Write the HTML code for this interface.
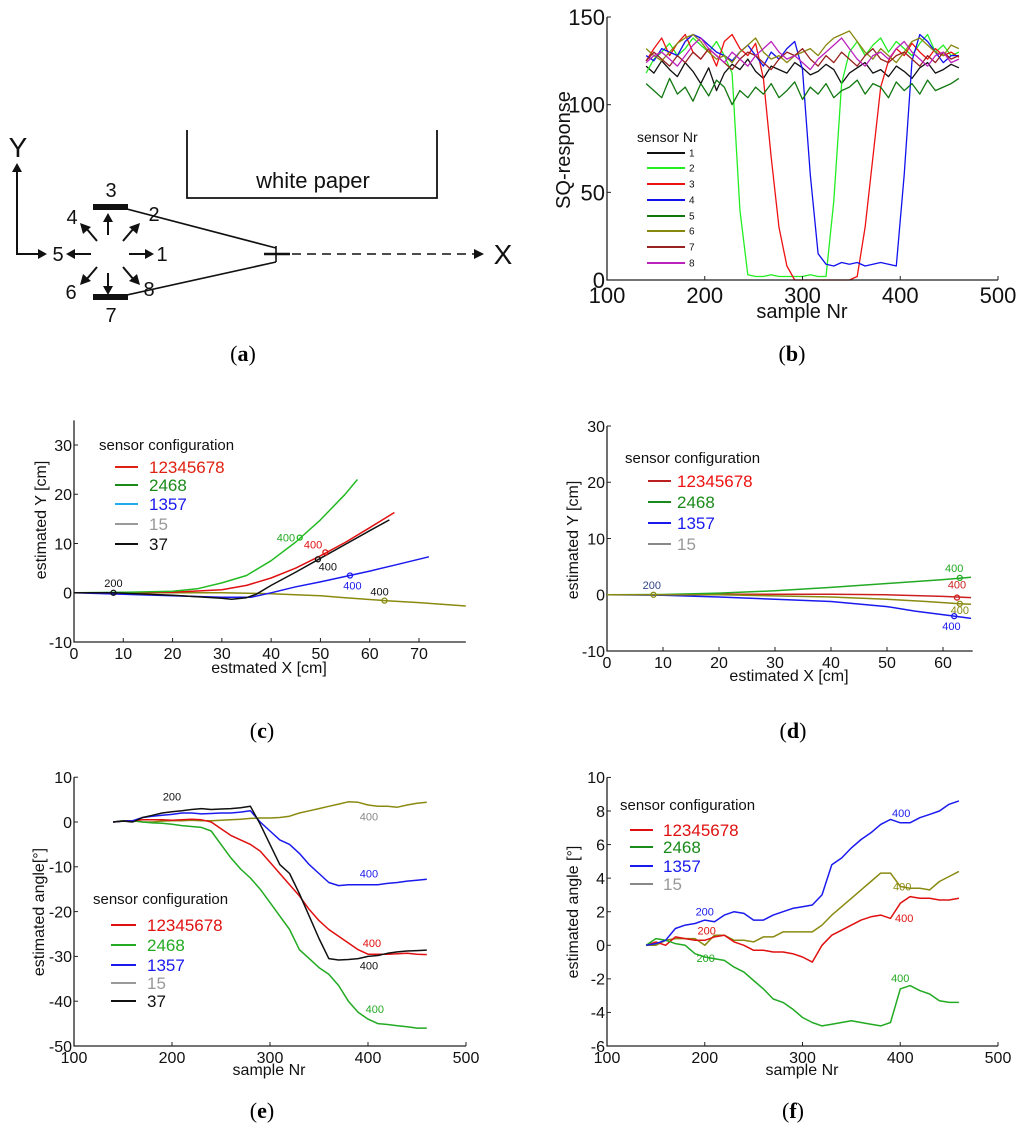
<!DOCTYPE html>
<html><head><meta charset="utf-8"><style>
body{margin:0;background:#fff}
svg{display:block;font-family:"Liberation Sans",sans-serif}
.cap{font-family:"Liberation Serif",serif;font-size:22px}
</style></head><body>
<svg id="fig" width="1024" height="1134" viewBox="0 0 1024 1134">
<g id="pa" stroke="#111" fill="none" stroke-width="2">
 <polyline points="187,130 187,198 437,198 437,130" stroke-width="1.8"/>
 <text x="313" y="188" fill="#111" stroke="none" font-size="22" text-anchor="middle">white paper</text>
 <text x="18" y="157" fill="#111" stroke="none" font-size="28" text-anchor="middle">Y</text>
 <polyline points="17,172 17,254 40,254"/>
 <polygon points="12,172 22,172 17,163" fill="#111" stroke="none"/>
 <polygon points="38,249 38,259 47,254" fill="#111" stroke="none"/>
 <rect x="93" y="204" width="35" height="6" fill="#111" stroke="none"/>
 <rect x="93" y="294" width="35" height="6" fill="#111" stroke="none"/>
 <g fill="#111" stroke="none" font-size="20" text-anchor="middle">
  <text x="111" y="197">3</text><text x="111" y="322">7</text>
  <text x="58" y="261">5</text><text x="162" y="261">1</text>
  <text x="72" y="224">4</text><text x="154" y="221">2</text>
  <text x="71" y="299">6</text><text x="149" y="296">8</text>
  <text x="503" y="264" font-size="28">X</text>
 </g>
 <line x1="108" y1="235" x2="108" y2="220"/><polygon points="103,222 113,222 108,213" fill="#111" stroke="none"/>
 <line x1="108" y1="273" x2="108" y2="288"/><polygon points="103,286 113,286 108,295" fill="#111" stroke="none"/>
 <line x1="129" y1="254" x2="146" y2="254"/><polygon points="145,249 145,259 154,254" fill="#111" stroke="none"/>
 <line x1="91" y1="254" x2="74" y2="254"/><polygon points="75,249 75,259 66,254" fill="#111" stroke="none"/>
 <line x1="97" y1="241" x2="86" y2="228"/><polygon points="80,223 83,234 91,227" fill="#111" stroke="none"/>
 <line x1="123" y1="241" x2="134" y2="228"/><polygon points="140,223 137,234 129,227" fill="#111" stroke="none"/>
 <line x1="97" y1="267" x2="86" y2="280"/><polygon points="80,285 83,274 91,281" fill="#111" stroke="none"/>
 <line x1="123" y1="267" x2="134" y2="280"/><polygon points="140,285 137,274 129,281" fill="#111" stroke="none"/>
 <line x1="127" y1="209" x2="276" y2="248" stroke-width="1.6"/>
 <line x1="127" y1="295" x2="276" y2="262" stroke-width="1.6"/>
 <line x1="264" y1="254" x2="290" y2="254" stroke-width="2.4"/>
 <line x1="276" y1="246" x2="276" y2="262" stroke-width="1.6"/>
 <line x1="292" y1="254" x2="474" y2="254" stroke-dasharray="9,6" stroke-width="1.6"/>
 <polygon points="474,249 474,259 484,254" fill="#111" stroke="none"/>
</g>
<g class="cap" text-anchor="middle">
 <text x="243" y="361">(<tspan font-weight="bold">a</tspan>)</text>
 <text x="792" y="361">(<tspan font-weight="bold">b</tspan>)</text>
 <text x="262" y="738">(<tspan font-weight="bold">c</tspan>)</text>
 <text x="793" y="738">(<tspan font-weight="bold">d</tspan>)</text>
 <text x="262" y="1118">(<tspan font-weight="bold">e</tspan>)</text>
 <text x="793" y="1118">(<tspan font-weight="bold">f</tspan>)</text>
</g>
</svg>
<script>
// ---- Panel b data (samples start 140, step 8) ----
const bStart = 140, bStep = 8;
const bS1 = [122,118,125,120,116,124,119,112,121,108,118,123,120,126,119,115,122,120,118,124,121,117,119,123,120,112,118,121,124,118,120,116,122,119,115,121,124,118,120,123,121];
const bS2 = [118,126,130,135,128,132,138,134,130,136,128,118,40,3,2,2,3,2,2,2,2,3,2,2,45,112,130,136,128,134,138,130,136,132,128,135,140,130,134,128,130];
const bS3 = [125,132,138,128,135,140,130,126,132,122,136,140,132,128,135,115,70,30,8,0,0,0,0,0,0,0,0,2,30,70,110,125,132,128,135,130,126,132,128,130,127];
const bS4 = [128,125,132,130,128,136,140,138,134,130,128,125,130,134,128,122,130,126,132,136,120,60,15,9,8,10,9,10,8,9,10,9,8,60,125,140,136,130,124,128,128];
const bS5 = [112,108,104,115,106,110,102,112,105,114,110,100,108,104,110,106,112,104,108,113,103,110,106,112,104,108,110,114,106,112,110,104,113,108,112,106,114,108,110,112,115];
const bS6 = [132,128,125,130,135,138,140,136,130,126,128,124,130,134,138,130,126,128,124,128,130,132,128,134,138,140,142,136,130,126,132,128,124,130,136,138,134,130,128,134,132];
const bS7 = [125,130,126,122,128,124,130,126,132,128,124,120,126,130,128,124,120,126,130,128,132,126,122,128,124,130,126,122,128,132,126,124,128,130,126,122,128,124,130,126,128];
const bS8 = [124,128,130,126,122,128,134,138,132,128,124,130,126,122,128,132,136,130,126,128,124,120,126,130,134,138,132,126,122,128,130,126,132,136,130,126,122,128,130,124,126];
const bXTicks = [100,200,300,400,500];
const bYTicks = [0,50,100,150];
const bLegend = ['1','2','3','4','5','6','7','8'];

// ---- Panel c data ----
const cRedX=[0,8,20,30,35,40,45,50,55,60,65], cRedY=[0,0,0.1,0.6,1.5,3,5,7.5,10.2,13.2,16.3];
const cGreenX=[0,10,20,25,30,35,40,45,50,55,57.5], cGreenY=[0,0.1,0.3,0.8,2,3.5,6.5,10.3,14.8,20,23];
const cBlueX=[0,10,20,30,36,40,45,50,55,60,65,72], cBlueY=[0,-0.3,-0.6,-0.9,-0.9,0,1.2,2.2,3.3,4.4,5.6,7.3];
const cOliveX=[0,20,30,40,50,55,63,70,79.5], cOliveY=[0,0,0,-0.2,-0.6,-1,-1.6,-2,-2.7];
const cBlackX=[0,8,20,30,32,35,37,40,45,50,55,60,64], cBlackY=[0,0,-0.5,-1.1,-1.3,-1,-0.3,1.5,4.2,7,9.8,12.6,14.8];
const cXTicks=[0,10,20,30,40,50,60,70], cYTicks=[-10,0,10,20,30];

// ---- Panel d data ----
const dRedX=[0,10,20,30,40,50,60,65], dRedY=[0,0,0.1,0.1,0.1,0,-0.3,-0.5];
const dGreenX=[0,10,20,30,40,50,60,65], dGreenY=[0,0.05,0.3,0.7,1.3,2.0,2.7,3.1];
const dBlueX=[0,10,20,30,40,50,55,62,65], dBlueY=[0,-0.1,-0.4,-0.8,-1.2,-2.1,-2.9,-3.8,-4.2];
const dOliveX=[0,20,30,40,50,57,63,65], dOliveY=[0,0,-0.2,-0.4,-0.8,-1.2,-1.6,-1.7];
const dXTicks=[0,10,20,30,40,50,60], dYTicks=[-10,0,10,20,30];

// ---- Panel e data (samples start 140, step 10) ----
const eStart=140, eStep=10;
const eOlive=[0,0.3,0.3,0,0,0.2,0.3,0.3,0.4,0.3,0.3,0.4,0.5,0.6,0.8,0.9,0.9,1,1.3,2,2.5,3,3.5,4,4.5,4.4,3.8,3.5,3.5,3.3,3.8,4.2,4.4];
const eRed=[0,0.2,0.3,0.5,0.5,0.5,0.4,0.5,0.6,0.5,0,-1.5,-3,-4,-5,-6.5,-9,-11.5,-14,-16.5,-19.5,-22,-24,-25.5,-27,-28.5,-29.5,-29.5,-29.5,-29.4,-29.3,-29.5,-29.6];
const eGreen=[0,0.3,0.3,0,-0.2,-0.3,-0.5,-0.8,-1,-1.2,-2,-5,-8,-10.5,-12.5,-15,-18,-21,-24,-28.5,-30.5,-32.5,-34,-36.5,-40,-42.5,-44,-45,-45.2,-45.5,-45.7,-46,-46];
const eBlue=[0,0.2,0.3,1,1.3,1.5,1.7,2,2,1.8,1.9,2,2,2.2,2.5,0,-2,-4,-5,-7,-9.5,-11.5,-13.5,-14.2,-14,-14,-14,-14,-13.7,-13.5,-13.2,-13,-12.8];
const eBlack=[0,0.2,0,1,1.5,2,2.3,2.5,2.8,3,2.8,2.9,3,3.2,3.5,-0.5,-5,-9.5,-11.5,-16,-21,-26,-30.5,-30.8,-30.7,-30.5,-30,-29.8,-29.3,-29,-28.8,-28.7,-28.6];
const eXTicks=[100,200,300,400,500], eYTicks=[-50,-40,-30,-20,-10,0,10];

// ---- Panel f data ----
const fBlue=[0,0.1,0.3,1,1.2,1.3,1.5,1.4,1.8,2,1.9,1.5,1.5,1.8,2,2.2,2.3,2.4,3,4.8,5.2,5.8,6.3,6.7,7.2,7.5,7.3,7.3,7.6,7.8,8,8.4,8.6];
const fOlive=[0,0,0.3,0.4,0.4,0.4,0,0.6,0.6,0.3,0.3,0.2,0.5,0.5,0.8,0.8,0.8,0.8,1.2,1.8,2.3,2.8,3.3,3.8,4.3,4.3,3.5,3.4,3.4,3.3,3.8,4.1,4.4];
const fRed=[0,0.2,0,0.5,0.4,0.3,0.3,0.5,0.6,0.2,0,-0.3,-0.3,-0.4,-0.4,-0.5,-0.7,-1,0,0.6,0.9,1.2,1.5,1.7,1.8,1.6,2.5,2.9,2.8,2.8,2.7,2.7,2.8];
const fGreen=[0,0.4,0.3,0.1,0,-0.5,-0.7,-0.8,-0.9,-1.3,-1.6,-2.1,-2.6,-3.2,-3.4,-3.8,-4.3,-4.6,-4.8,-4.7,-4.6,-4.5,-4.6,-4.7,-4.8,-4.6,-2.6,-2.4,-2.7,-2.9,-3.3,-3.4,-3.4];
const fXTicks=[100,200,300,400,500], fYTicks=[-6,-4,-2,0,2,4,6,8,10];

const NS='http://www.w3.org/2000/svg';
const svg=document.getElementById('fig');
function mk(tag,attrs,parent){const e=document.createElementNS(NS,tag);for(const k in attrs)e.setAttribute(k,attrs[k]);(parent||svg).appendChild(e);return e;}
function txt(s,attrs,parent){const e=mk('text',attrs,parent);e.textContent=s;return e;}
function scale(d0,d1,p0,p1){return v=>p0+(v-d0)*(p1-p0)/(d1-d0);}

function axes(g,X,Y,xL,xR,yB,yT,xt,yt,fs){
  const ax=mk('path',{d:`M${X(xL)},${Y(yT)}V${Y(yB)}H${X(xR)}`,stroke:'#222',fill:'none','stroke-width':1.3},g);
  
  
  xt.forEach(v=>{
    const t=mk('line',{x1:X(v),x2:X(v),y1:Y(yB),y2:Y(yB)-4,stroke:'#222'},g);
    
    
    const l=txt(String(v),{x:X(v),y:Y(yB)+fs+1,'font-size':fs,'text-anchor':'middle',fill:'#111'},g);
    
    
  });
  yt.forEach(v=>{
    const t=mk('line',{x1:X(xL),x2:X(xL)+4,y1:Y(v),y2:Y(v),stroke:'#222'},g);
    
    
    const l=txt(String(v),{x:X(xL)-2,y:Y(v)+fs*0.36,'font-size':fs,'text-anchor':'end',fill:'#111'},g);
    
    
  });
}
function line(g,xs,ys,X,Y,color,name,w){
  const d=xs.map((x,i)=>(i?'L':'M')+X(x).toFixed(1)+','+Y(ys[i]).toFixed(1)).join('');
  const p=mk('path',{d:d,stroke:color,fill:'none','stroke-width':w||1.5,'stroke-linejoin':'round'},g);
  
  
  return p;
}
function idxX(arr,start,step){return arr.map((_,i)=>start+i*step);}
function title(g,s,x,y,fs,rot){
  const a={x:x,y:y,'font-size':fs,'text-anchor':'middle',fill:'#111'};
  if(rot)a.transform=`rotate(-90 ${x} ${y})`;
  const t=txt(s,a,g);
  return t;
}
function legend(g,head,hx,hy,hfs,items,lx0,lx1,tx,ys,fs){
  const h=txt(head,{x:hx,y:hy,'font-size':hfs,fill:'#111'},g);
  
  
  items.forEach((it,i)=>{
    const l=mk('line',{x1:lx0,x2:lx1,y1:ys[i],y2:ys[i],stroke:it[1],'stroke-width':2},g);
    
    
    const t=txt(it[0],{x:tx,y:ys[i]+fs*0.36,'font-size':fs,fill:it[2]||it[1]},g);
    
    
  });
}
function lab(g,s,x,y,c,fs){const t=txt(s,{x:x,y:y,'font-size':fs||11,fill:c,'text-anchor':'middle'},g);}
function dot(g,x,y,c){const d=mk('circle',{cx:x,cy:y,r:2.5,fill:'none',stroke:c,'stroke-width':1.3},g);}

// Panel b
{
 const g=mk('g',{});
 
 
 const X=scale(100,500,607,998),Y=scale(0,150,280,17);
 const cols=['#111','#22ee22','#ee1111','#1111ee','#117711','#888811','#992222','#bb22bb'];
 [bS1,bS2,bS3,bS4,bS5,bS6,bS7,bS8].forEach((s,k)=>line(g,idxX(s,bStart,bStep),s,X,Y,cols[k],'series-sensor-'+(k+1),1.3));
 axes(g,X,Y,100,500,0,150,bXTicks,bYTicks,22);
 const yt=title(g,'SQ-response',570,150,20,true);
 const xt=title(g,'sample Nr',802,318,20);
 legend(g,'sensor Nr',637,142,14,bLegend.map((s,i)=>[s,cols[i],'#111']),647,685,689,[153,168,184,200,216,231,247,263],10);
}
// Panel c
{
 const g=mk('g',{});
 
 
 const X=scale(0,70,74,419),Y=scale(-10,30,642,445);
 axes(g,X,Y,0,79.5,-10,35,cXTicks,cYTicks,16);
 line(g,cOliveX,cOliveY,X,Y,'#8a8a10','series-15');
 line(g,cBlueX,cBlueY,X,Y,'#1a1aee','series-1357');
 line(g,cRedX,cRedY,X,Y,'#e01010','series-12345678');
 line(g,cGreenX,cGreenY,X,Y,'#22bb22','series-2468');
 line(g,cBlackX,cBlackY,X,Y,'#111','series-37');
 dot(g,X(8),Y(0),'#111');lab(g,'200',X(8),Y(0)-6,'#111');
 dot(g,X(45.8),Y(11.2),'#22bb22');lab(g,'400',X(43),Y(11.2)+4,'#22aa22');
 dot(g,X(51),Y(8.2),'#e01010');lab(g,'400',X(48.5),Y(8.2)-4,'#e01010');
 dot(g,X(49.5),Y(6.8),'#111');lab(g,'400',X(51.5),Y(6.8)+11,'#111');
 dot(g,X(56),Y(3.5),'#1a1aee');lab(g,'400',X(56.5),Y(3.5)+14,'#1a1aee');
 dot(g,X(63),Y(-1.6),'#8a8a10');lab(g,'400',X(62),Y(-1.6)-5,'#111');
 const yt=title(g,'estimated Y [cm]',46,520,16,true);
 const xt=title(g,'estmated X [cm]',269,673,16);
 legend(g,'sensor configuration',99,450,15,[['12345678','#e02010'],['2468','#1a8a1a'],['1357','#22aaee','#1a1aee'],['15','#999'],['37','#111']],115,138,149,[467,485,504,524,544],17);
}
// Panel d
{
 const g=mk('g',{});
 
 
 const X=scale(0,60,607,943),Y=scale(-10,30,651,426);
 axes(g,X,Y,0,65.3,-10,30,dXTicks,dYTicks,16);
 line(g,dRedX,dRedY,X,Y,'#cc2020','series-12345678');
 line(g,dGreenX,dGreenY,X,Y,'#22aa22','series-2468');
 line(g,dBlueX,dBlueY,X,Y,'#1a1aee','series-1357');
 line(g,dOliveX,dOliveY,X,Y,'#8a8a10','series-15');
 dot(g,X(8.3),Y(0),'#8a8a10');lab(g,'200',X(8),Y(0)-6,'#334488');
 dot(g,X(63),Y(3),'#22aa22');lab(g,'400',X(62),Y(3)-6,'#22aa22');
 dot(g,X(62.5),Y(-0.5),'#cc2020');lab(g,'400',X(62.5),Y(-0.5)-9,'#cc2020');
 dot(g,X(63),Y(-1.6),'#8a8a10');lab(g,'400',X(63),Y(-1.6)+10,'#8a8a10');
 dot(g,X(62),Y(-3.8),'#1a1aee');lab(g,'400',X(61.5),Y(-3.8)+14,'#1a1aee');
 const yt=title(g,'estimated Y [cm]',578,540,16,true);
 const xt=title(g,'estimated X [cm]',789,681,16);
 legend(g,'sensor configuration',625,463,15,[['12345678','#bb2020','#ee1111'],['2468','#1a8a1a'],['1357','#1a1aee'],['15','#888','#999']],648,671,677,[481,502,523,544],17);
}
// Panel e
{
 const g=mk('g',{});
 
 
 const X=scale(100,500,74,466),Y=scale(-50,0,1046,822);
 axes(g,X,Y,100,500,-50,10,eXTicks,eYTicks,16);
 const xs=idxX(eRed,eStart,eStep);
 line(g,xs,eOlive,X,Y,'#8a8a10','series-15');
 line(g,xs,eGreen,X,Y,'#22aa22','series-2468');
 line(g,xs,eRed,X,Y,'#e01010','series-12345678');
 line(g,xs,eBlue,X,Y,'#1a1aee','series-1357');
 line(g,xs,eBlack,X,Y,'#111','series-37');
 lab(g,'200',X(200),Y(3)-8,'#111');
 lab(g,'400',X(401),Y(3.5)+14,'#888');lab(g,'400',X(401),Y(-14)-7,'#1a1aee');
 lab(g,'400',X(404),Y(-29.5)-7,'#e01010');lab(g,'400',X(401),Y(-30)+13,'#111');
 lab(g,'400',X(407),Y(-44)-6,'#22aa22');
 const yt=title(g,'estimated angle[°]',44,912,16,true);
 const xt=title(g,'sample Nr',269,1075,16);
 legend(g,'sensor configuration',93,904,15,[['12345678','#e01010'],['2468','#22aa22'],['1357','#1a1aee'],['15','#999'],['37','#111']],111,136,147,[925,945,965,983,1001],17);
}
// Panel f
{
 const g=mk('g',{});
 
 
 const X=scale(100,500,607,998),Y=scale(-6,8,1046,811);
 axes(g,X,Y,100,500,-6,10,fXTicks,fYTicks,16);
 const xs=idxX(fBlue,eStart,eStep);
 line(g,xs,fOlive,X,Y,'#8a8a10','series-15');
 line(g,xs,fRed,X,Y,'#e01010','series-12345678');
 line(g,xs,fGreen,X,Y,'#22aa22','series-2468');
 line(g,xs,fBlue,X,Y,'#1a1aee','series-1357');
 lab(g,'200',X(200),Y(1.3)-8,'#1a1aee');lab(g,'200',X(202),Y(0.3)-6,'#e01010');lab(g,'200',X(201),Y(-1),'#22aa22');
 lab(g,'400',X(401),Y(7.4)-4,'#1a1aee');lab(g,'400',X(402),Y(3.5)+4,'#8a8a10');
 lab(g,'400',X(404),Y(1.5)+2,'#e01010');lab(g,'400',X(400),Y(-2.2),'#22aa22');
 const yt=title(g,'estimated angle [°]',578,912,16,true);
 const xt=title(g,'sample Nr',802,1075,16);
 legend(g,'sensor configuration',620,810,15,[['12345678','#e01010'],['2468','#1a8a1a'],['1357','#1a1aee'],['15','#888','#999']],630,653,663,[830,847,866,884],17);
}
</script>
</body></html>
